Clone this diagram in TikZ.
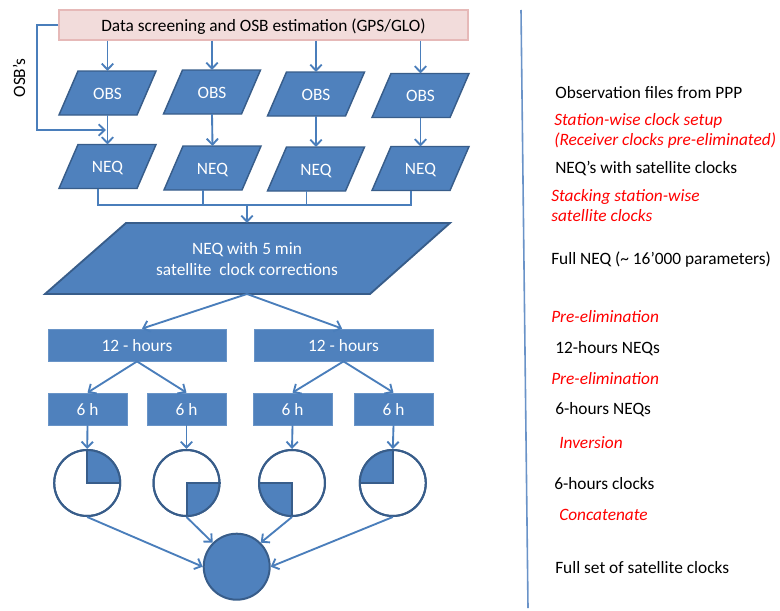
\documentclass[tikz,border=0pt]{standalone}
\usepackage{fontspec}
\setmainfont{Carlito}
\usetikzlibrary{arrows.meta,calc}
\definecolor{myblue}{HTML}{4F81BD}
\definecolor{mydark}{HTML}{385D8A}
\definecolor{arrowblue}{HTML}{4A7EBB}
\definecolor{pinkfill}{HTML}{F2DCDB}
\definecolor{pinkdraw}{HTML}{E6B9B8}
\definecolor{sepblue}{HTML}{6A93C8}
\definecolor{redtxt}{HTML}{FF0000}
\newcommand\mypgram[4]{%
  \path[shp] ({#2-48.5},{#3+22}) -- ({#2+29.5},{#3+22}) -- ({#2+48.5},{#3-22}) -- ({#2-29.5},{#3-22}) -- cycle;
  \coordinate (#1t) at (#2,{#3-22});
  \coordinate (#1b) at (#2,{#3+22});
  \coordinate (#1bc) at ({#2-9.5},{#3+22});
  \node[wtxt] (#1) at (#2,#3) {#4};
}
\begin{document}
\begin{tikzpicture}[x=0.75pt,y=-0.75pt,
  font=\fontsize{13}{15}\selectfont,
  shp/.style={fill=myblue,draw=mydark,line width=1.1pt,line join=miter},
  bl/.style={text height=9pt,text depth=0pt,inner sep=0pt},
  wtxt/.style={bl,text=white},
  boxw/.style={fill=myblue,draw=myblue!85!white,line width=0.6pt,wtxt},
  clk/.style={circle,minimum size=49.5pt,inner sep=0pt,draw=mydark,line width=1.5pt},
  arr/.style={draw=arrowblue,line width=1.4pt,-{Straight Barb[length=4.5pt,width=8.5pt]}},
  ln/.style={draw=arrowblue,line width=1.4pt},
  dk/.style={mydark,line width=1.5pt,line join=miter},
  note/.style={anchor=base west,inner sep=0pt},
  rnote/.style={note,text=redtxt,font=\fontsize{13}{15}\selectfont\itshape}]
\useasboundingbox (0,0) rectangle (780,610);

% top box
\node[fill=pinkfill,draw=pinkdraw,line width=0.8pt,minimum width=306.75pt,minimum height=22.5pt,
      inner sep=0pt,text height=10.5pt,text depth=0pt] (top) at (263.5,25)
      {Data screening and OSB estimation (GPS/GLO)};

% OBS and NEQ
\mypgram{obs1}{107.5}{93}{OBS}
\mypgram{obs2}{212}{92}{OBS}
\mypgram{obs3}{316}{94}{OBS}
\mypgram{obs4}{420.5}{95.5}{OBS}
\mypgram{neq1}{107.5}{166.5}{NEQ}
\mypgram{neq2}{212.5}{168}{NEQ}
\mypgram{neq3}{316}{169}{NEQ}
\mypgram{neq4}{420.5}{168.5}{NEQ}

% big NEQ
\path[shp,line width=1.4pt] (45,294) -- (370,294) -- (450,223) -- (126,223) -- cycle;
\coordinate (bigt) at (247,223);
\coordinate (bigb) at (247,294);
\node[wtxt,anchor=base] (bigA) at (247,254) {NEQ with 5 min};
\node[wtxt,anchor=base] (bigB) at (247,275) {satellite~ clock corrections};

% 12 h and 6 h boxes
\node[boxw,minimum width=133.5pt,minimum height=24pt] (h12a) at (137,345) {12 - hours};
\node[boxw,minimum width=134.25pt,minimum height=24pt] (h12b) at (343.5,345) {12 - hours};
\node[boxw,minimum width=59.25pt,minimum height=24pt] (h6a) at (87.5,409) {6 h};
\node[boxw,minimum width=59.25pt,minimum height=24pt] (h6b) at (186.5,409) {6 h};
\node[boxw,minimum width=59.25pt,minimum height=24pt] (h6c) at (292.5,409) {6 h};
\node[boxw,minimum width=59.25pt,minimum height=24pt] (h6d) at (393.5,409) {6 h};

% clocks
\node[clk,fill=white] (c1) at (87.2,483) {};
\node[clk,fill=white] (c2) at (186.5,483) {};
\node[clk,fill=white] (c3) at (292,483) {};
\node[clk,fill=white] (c4) at (392.8,483) {};
\begin{scope}\clip (c1.center) circle[radius=24.75pt]; \fill[myblue] (c1.center) rectangle ++(40,-40);\end{scope}
\begin{scope}\clip (c2.center) circle[radius=24.75pt]; \fill[myblue] (c2.center) rectangle ++(40,40);\end{scope}
\begin{scope}\clip (c3.center) circle[radius=24.75pt]; \fill[myblue] (c3.center) rectangle ++(-40,40);\end{scope}
\begin{scope}\clip (c4.center) circle[radius=24.75pt]; \fill[myblue] (c4.center) rectangle ++(-40,-40);\end{scope}
\draw[dk] (c1.north) -- (c1.center) -- (c1.east);
\draw[dk] (c2.south) -- (c2.center) -- (c2.east);
\draw[dk] (c3.west) -- (c3.center) -- (c3.south);
\draw[dk] (c4.west) -- (c4.center) -- (c4.north);
\foreach \c in {c1,c2,c3,c4} \draw[dk] (\c.center) circle[radius=24.75pt];
\node[clk,fill=myblue] (fin) at (236.7,566.7) {};

% connectors
\coordinate (osbA) at (37,25);
\coordinate (osbB) at (37,130);
\coordinate (osbC) at (106,130);
\draw[arr] (top.west) -- (osbA) -- (osbB) -- (osbC);
\node[rotate=90,anchor=base,inner sep=0pt] (osb) at (25,78) {OSB’s};
\foreach \i in {1,2,3,4} {
  \draw[arr] (top.south -| obs\i t) -- (obs\i t);
  \draw[arr] (obs\i b) -- (neq\i t);
}
\coordinate (bus) at (247,205);
\draw[ln] (neq1bc) -- (neq1bc |- bus) -- (neq4bc |- bus) -- (neq4bc);
\draw[ln] (neq2bc) -- (neq2bc |- bus);
\draw[ln] (neq3bc) -- (neq3bc |- bus);
\draw[arr] (bus) -- (bigt);
\draw[arr] (bigb) -- ([xshift=3.75pt]h12a.north);
\draw[arr] (bigb) -- ([xshift=-1pt]h12b.north);
\draw[arr] (h12a.south) -- (h6a.north);
\draw[arr] (h12a.south) -- (h6b.north);
\draw[arr] (h12b.south) -- (h6c.north);
\draw[arr] (h12b.south) -- (h6d.north);
\draw[arr] (h6a.south) -- (c1.north);
\draw[arr] (h6b.south) -- (c2.north);
\draw[arr] (h6c.south) -- (c3.north);
\draw[arr] (h6d.south) -- (c4.north);
\draw[arr] (c1.south) -- (fin.west);
\draw[arr] (c2.south) -- (fin.north west);
\draw[arr] (c3.south) -- (fin.north east);
\draw[arr] (c4.south) -- (fin.east);

% separator
\coordinate (sepA) at (521,10);
\coordinate (sepB) at (528,608);
\draw[sepblue,line width=1.2pt] (sepA) -- (sepB);

% right notes
\node[note] (n1) at (555,98) {Observation files from PPP};
\node[rnote] (n2) at (554,125) {Station-wise clock setup};
\node[rnote] (n3) at (554,145) {(Receiver clocks pre-eliminated)};
\node[note] (n4) at (555,173) {NEQ’s with satellite clocks};
\node[rnote] (n5) at (551,201) {Stacking station-wise};
\node[rnote] (n6) at (551,221) {satellite clocks};
\node[note] (n7) at (551,264) {Full NEQ (\char"007E{} 16’000 parameters)};
\node[rnote] (n8) at (551,322) {Pre-elimination};
\node[note] (n9) at (555,353) {12-hours NEQs};
\node[rnote] (n10) at (551,384) {Pre-elimination};
\node[note] (n11) at (555,414) {6-hours NEQs};
\node[rnote] (n12) at (559,448) {Inversion};
\node[note] (n13) at (554,489) {6-hours clocks};
\node[rnote] (n14) at (559,520) {Concatenate};
\node[note] (n15) at (555,573) {Full set of satellite clocks};
\end{tikzpicture}
\end{document}
